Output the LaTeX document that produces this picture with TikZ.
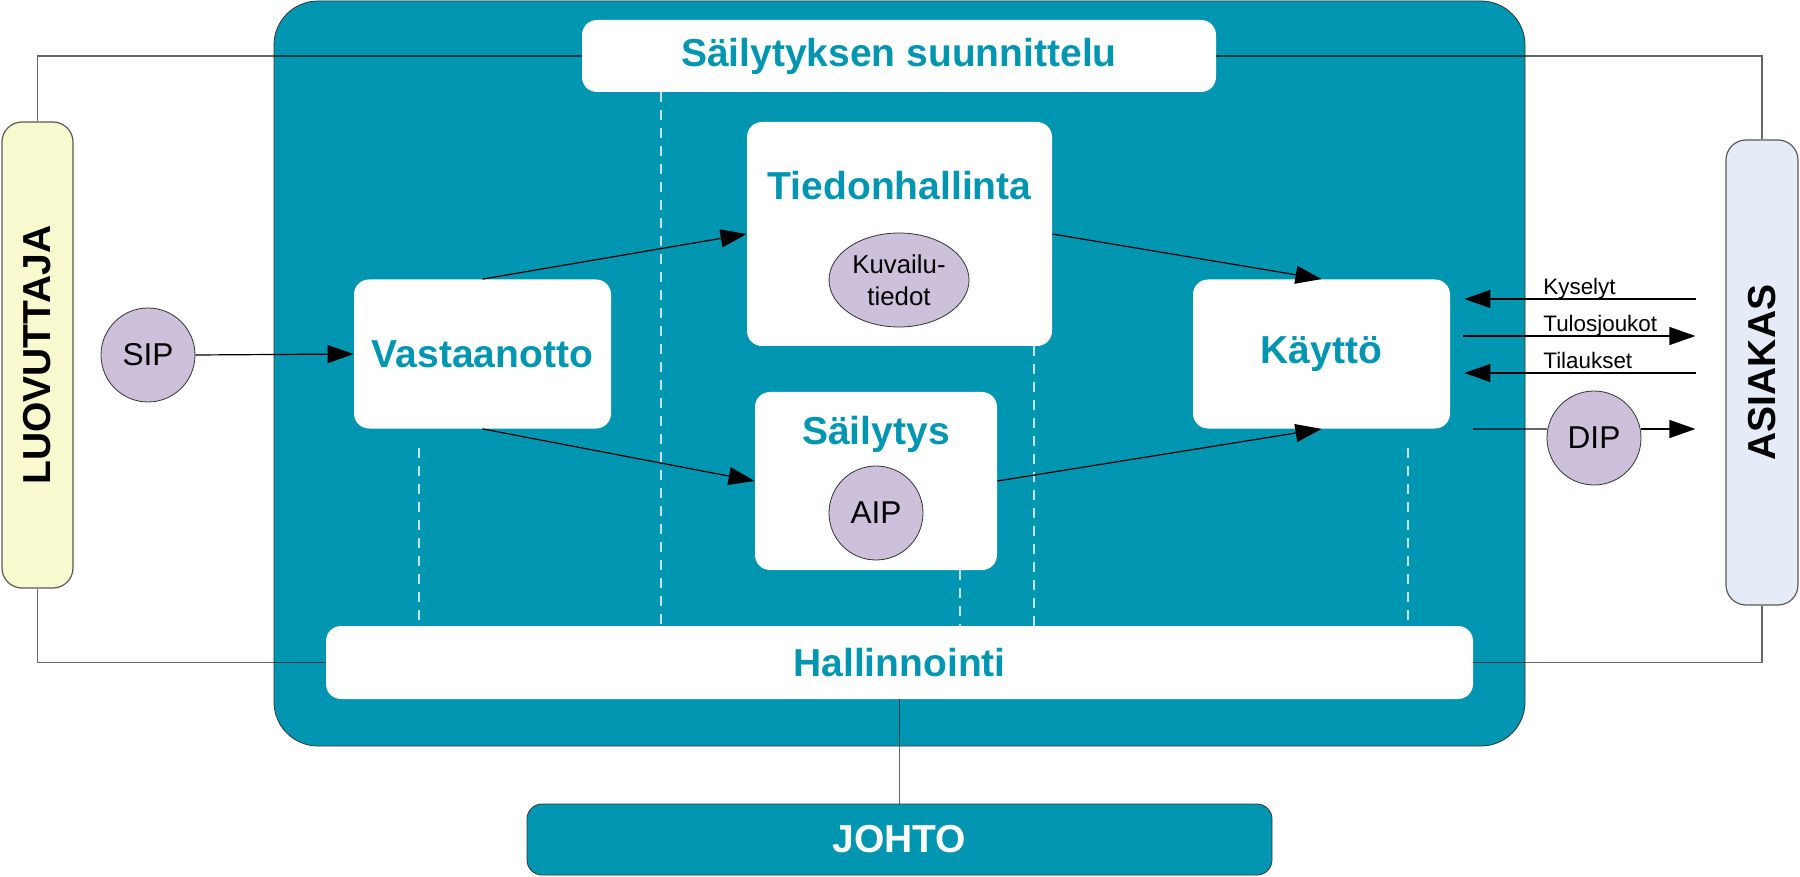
\documentclass[tikz,border=0pt]{standalone}
\usepackage{fontspec}
\setmainfont{Liberation Sans}
\usetikzlibrary{arrows.meta,shapes.geometric}

\definecolor{oaisteal}{RGB}{0,150,177}
\definecolor{oaislilac}{RGB}{205,192,218}
\definecolor{oaisyellow}{RGB}{248,249,206}
\definecolor{oaisblue}{RGB}{230,236,247}

\begin{document}
\begin{tikzpicture}[x=0.5pt, y=-0.5pt,
	whitebox/.style={rectangle, fill=white, rounded corners=7.5pt, inner sep=0pt, text=oaisteal,
		font=\fontsize{19.5}{23}\selectfont\bfseries},
	actor/.style={rectangle, draw=black!65, line width=0.6pt, rounded corners=10pt, inner sep=0pt,
		rotate=90, font=\fontsize{19.5}{23}\selectfont\bfseries},
	pkg/.style={circle, draw=black!80, fill=oaislilac, minimum size=47pt, inner sep=0pt,
		font=\fontsize{15.8}{18}\selectfont},
	outerline/.style={draw=black, draw opacity=0.6, line width=0.6pt},
	arrow/.style={draw=black, line width=0.6pt, -{Triangle[length=13pt,width=9pt]}},
	divider/.style={draw=white, draw opacity=0.75, line width=0.6pt, dash pattern=on 5pt off 4pt},
	reqlabel/.style={anchor=base west, inner sep=0pt, font=\fontsize{11.2}{13}\selectfont}]
	
	\useasboundingbox (0,0) rectangle (1800,877);
	
	%Archive
	\node (oais) at (899.5,373.5) [rectangle, draw=black!80, fill=oaisteal, rounded corners=22pt,
	minimum width=625.5pt, minimum height=372.5pt]{};
	
	%Dividers
	\coordinate (d1) at (661,0);
	\coordinate (d2) at (419,448);
	\coordinate (d3) at (960,0);
	\coordinate (d4) at (1034,0);
	\coordinate (d5) at (1408,448);
	
	%Functions
	\node (plan) at (899,56) [whitebox, minimum width=317pt, minimum height=36pt]{S\"ailytyksen suunnittelu};
	\node (vast) at (482.5,354) [whitebox, minimum width=128.5pt, minimum height=74.5pt]{Vastaanotto};
	\node (tied) at (899.5,234) [whitebox, minimum width=152.5pt, minimum height=112pt]{};
	\node (tiedtitle) at (899.5,186) [whitebox]{Tiedonhallinta};
	\node (sail) at (876,481) [whitebox, minimum width=121pt, minimum height=89pt]{};
	\node (sailtitle) at (876,434) [whitebox]{S\"ailytys};
	\node (kaytto) at (1321.5,354) [whitebox, minimum width=128.5pt, minimum height=74.5pt]{K\"aytt\"o};
	\node (hall) at (899.5,662.5) [whitebox, minimum width=573.5pt, minimum height=36.5pt]{Hallinnointi};
	
	\draw[divider] (d1 |- plan.south) -- (d1 |- hall.north);
	\draw[divider] (d2) -- (d2 |- hall.north);
	\draw[divider] (d3 |- sail.south) -- (d3 |- hall.north);
	\draw[divider] (d4 |- tied.south) -- (d4 |- hall.north);
	\draw[divider] (d5) -- (d5 |- hall.north);
	
	%Management
	\node (johto) at (899.5,839.5) [rectangle, draw=black!80, fill=oaisteal, rounded corners=7.5pt,
	minimum width=372.5pt, minimum height=35.5pt, text=white, font=\fontsize{19.5}{23}\selectfont\bfseries]{JOHTO};
	
	%Producer and consumer
	\node (luov) at (37.5,355) [actor, fill=oaisyellow, minimum width=233pt, minimum height=35.5pt]{LUOVUTTAJA};
	\node (asiakas) at (1762,372.5) [actor, fill=oaisblue, minimum width=232.5pt, minimum height=36pt]{ASIAKAS};
	
	%Packages
	\node (sip) at (148,355) [pkg]{SIP};
	\node (aip) at (876,513) [pkg]{AIP};
	\node (dip) at (1594,438) [pkg]{DIP};
	\node (meta) at (899,280) [ellipse, draw=black!80, fill=oaislilac, minimum width=70pt, minimum height=47pt,
	inner sep=0pt, align=center, font=\fontsize{12.9}{16}\selectfont]{Kuvailu-\\tiedot};
	
	%Outer lines
	\draw[outerline] (plan.west) -| (luov.east);
	\draw[outerline] (plan.east) -| (asiakas.east);
	\draw[outerline] (hall.west) -| (luov.west);
	\draw[outerline] (hall.east) -| (asiakas.west);
	\draw[outerline] (hall.south) -- (johto.north);
	
	%Flow
	\draw[arrow] (sip.east) -- (vast.west);
	\draw[arrow] (vast.north) -- (tied.west);
	\draw[arrow] (vast.south) -- (sail.west);
	\draw[arrow] (tied.east) -- (kaytto.north);
	\draw[arrow] (sail.east) -- (kaytto.south);
	
	%Requests
	\coordinate (kys) at (0,299);
	\coordinate (tul) at (0,336);
	\coordinate (til) at (0,373);
	\coordinate (dipl) at (0,429);
	\draw[arrow, shorten <=14.5pt, shorten >=7pt] (asiakas.north |- kys) -- (kaytto.east |- kys);
	\draw[arrow, shorten <=6.5pt, shorten >=15pt] (kaytto.east |- tul) -- (asiakas.north |- tul);
	\draw[arrow, shorten <=14.5pt, shorten >=7pt] (asiakas.north |- til) -- (kaytto.east |- til);
	\draw[outerline, shorten <=11.5pt] (kaytto.east |- dipl) -- (dip.west |- dipl);
	\draw[arrow, shorten >=15pt] (dip.east |- dipl) -- (asiakas.north |- dipl);
	\node (kyslbl) at (1543,295) [reqlabel]{Kyselyt};
	\node (tullbl) at (1543,332) [reqlabel]{Tulosjoukot};
	\node (tillbl) at (1543,369) [reqlabel]{Tilaukset};
	
\end{tikzpicture}
\end{document}
